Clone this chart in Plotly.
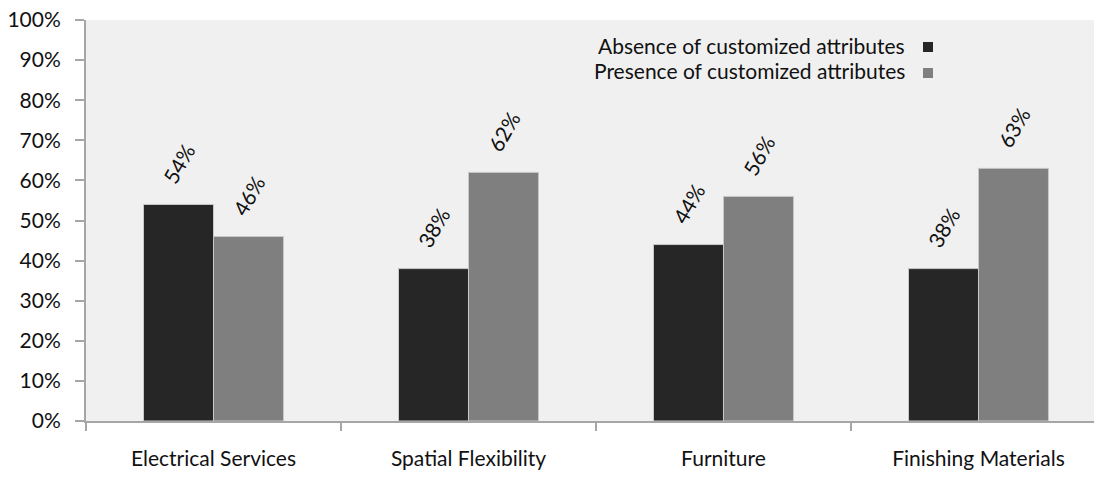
import plotly.graph_objects as go

categories = ["Electrical Services", "Spatial Flexibility", "Furniture", "Finishing Materials"]
absence = [0.54, 0.38, 0.44, 0.38]
presence = [0.46, 0.62, 0.56, 0.63]
series_names = ["Absence of customized attributes", "Presence of customized attributes"]
colors = ["#262626", "#7f7f7f"]
ytick_vals = [i / 10 for i in range(11)]

FONT = "Lato"
FS = 21
W, H = 1094, 486
ML, MR, MT, MB = 86, 0, 20, 65

fig = go.Figure()
for name, vals, col in zip(series_names, [absence, presence], colors):
    fig.add_trace(go.Bar(
        x=categories, y=vals, name=name,
        marker=dict(color=col, line=dict(color="#c8c8c8", width=1)),
        showlegend=False,
    ))

annotations = []
for vals, xs in [(absence, -35), (presence, 35)]:
    for c, v in zip(categories, vals):
        annotations.append(dict(
            x=c, y=v, xref="x", yref="y", text=f"{round(v*100)}%",
            showarrow=False, textangle=-60, xshift=xs, yshift=41,
            font=dict(family=FONT, size=FS, color="#111111"),
        ))

# legend drawn as text followed by a square, as in the reference
def px2paper_x(px):
    return (px - ML) / (W - ML - MR)

def px2paper_y(py):
    return (H - MB - py) / (H - MT - MB)

shapes = []
legend_rows = [(series_names[0], colors[0], 45), (series_names[1], colors[1], 71)]
for name, col, cy in legend_rows:
    annotations.append(dict(
        x=px2paper_x(907), y=px2paper_y(cy), xref="paper", yref="paper",
        text=name, showarrow=False, xanchor="right", yanchor="middle",
        font=dict(family=FONT, size=FS, color="#111111"),
    ))
    shapes.append(dict(
        type="rect", xref="paper", yref="paper",
        x0=px2paper_x(923), x1=px2paper_x(933),
        y0=px2paper_y(cy - 3), y1=px2paper_y(cy + 7),
        fillcolor=col, line=dict(width=0),
    ))

fig.update_layout(
    width=W, height=H,
    margin=dict(l=ML, r=MR, t=MT, b=MB, pad=0),
    paper_bgcolor="white", plot_bgcolor="#f0f0f0",
    barmode="group", bargap=0.451, bargroupgap=0,
    font=dict(family=FONT, size=FS, color="#111111"),
    annotations=annotations, shapes=shapes,
    showlegend=False,
)
fig.update_xaxes(
    range=[-0.5, 3.453], showline=True, linecolor="#a6a6a6", linewidth=2,
    ticks="outside", tickson="boundaries", ticklen=8, tickcolor="#a6a6a6", tickwidth=2,
    ticklabelstandoff=18, showgrid=False, zeroline=False,
    tickfont=dict(family=FONT, size=FS, color="#111111"),
)
fig.update_yaxes(
    range=[0, 1], tickvals=ytick_vals, tickformat=".0%",
    showline=True, linecolor="#a6a6a6", linewidth=2,
    ticks="outside", ticklen=9, tickcolor="#a6a6a6", tickwidth=2,
    ticklabelstandoff=10, showgrid=False, zeroline=False,
    tickfont=dict(family=FONT, size=FS, color="#111111"),
)

fig.write_html("out.html")
